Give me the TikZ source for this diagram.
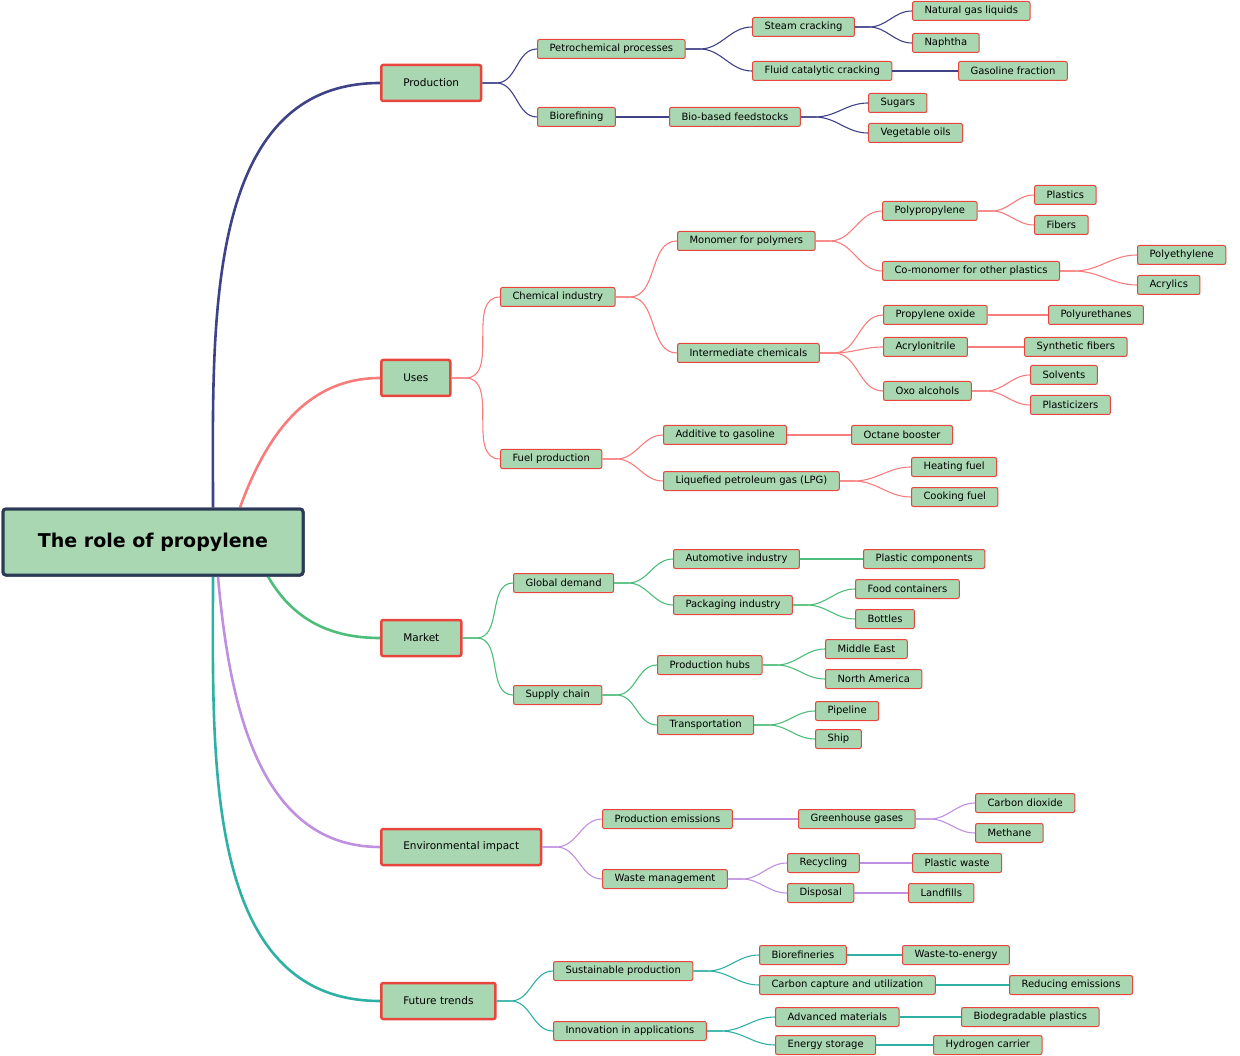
\documentclass[tikz,border=0pt]{standalone}
\usepackage{fontspec}
\setmainfont{DejaVu Sans}
\definecolor{boxfill}{HTML}{A9D7B1}
\definecolor{boxline}{HTML}{E8453C}
\definecolor{rootline}{HTML}{2B3A55}
\definecolor{cprod}{HTML}{3F4287}
\definecolor{cuses}{HTML}{F77D7D}
\definecolor{cmark}{HTML}{4DBD7A}
\definecolor{cenv}{HTML}{C090E0}
\definecolor{cfut}{HTML}{2FB0A5}
\tikzset{
  sub/.style={draw=boxline, fill=boxfill, rounded corners=2pt, line width=1pt,
    anchor=west, inner xsep=12pt, minimum height=19pt, font=\fontsize{10}{12}\selectfont},
  topic/.style={draw=boxline, fill=boxfill, rounded corners=2pt, line width=2.5pt,
    anchor=west, inner xsep=22pt, minimum height=36pt, font=\fontsize{10.5}{12}\selectfont},
  rootbox/.style={draw=rootline, fill=boxfill, rounded corners=3pt, line width=3pt,
    minimum width=300pt, minimum height=66pt, font=\fontsize{19}{22}\selectfont\bfseries},
  lnk/.style={line width=1.1pt},
  trunk/.style={line width=2.6pt}
}
\newcommand\lk[3]{\draw[lnk,#1] (#2.east) -- ++(14,0) to[out=0,in=180] (#3.west);}
\begin{document}
\begin{tikzpicture}[x=1pt,y=-1pt]
\useasboundingbox (0,0) rectangle (1240,1056);

% root and topics
\node[rootbox] (root) at (153,542) {The role of propylene};
\node[topic] (prod) at (380,83) {Production};
\node[topic] (uses) at (380,378) {Uses};
\node[topic] (mark) at (380,638) {Market};
\node[topic] (env) at (380,847) {Environmental impact};
\node[topic] (fut) at (380,1001) {Future trends};

% trunks
\draw[trunk,cprod] ([xshift=60pt]root.north) to[out=90,in=180] (prod.west);
\draw[trunk,cuses] ([xshift=87pt]root.north) to[out=70,in=180] (uses.west);
\draw[trunk,cmark] ([xshift=115pt]root.south) to[out=-60,in=180] (mark.west);
\draw[trunk,cenv] ([xshift=65pt]root.south) to[out=-85,in=180] (env.west);
\draw[trunk,cfut] ([xshift=60pt]root.south) to[out=-90,in=180] (fut.west);
\node[rootbox] at (root) {The role of propylene};

% Production
\node[sub] (petro) at (537,49) {Petrochemical processes};
\node[sub] (steam) at (752,27) {Steam cracking};
\node[sub] (ngl) at (912,11) {Natural gas liquids};
\node[sub] (naph) at (912,43) {Naphtha};
\node[sub] (fcc) at (752,71) {Fluid catalytic cracking};
\node[sub] (gasf) at (958,71) {Gasoline fraction};
\node[sub] (bioref) at (537,117) {Biorefining};
\node[sub] (biofeed) at (669,117) {Bio-based feedstocks};
\node[sub] (sugar) at (868,103) {Sugars};
\node[sub] (vegoil) at (868,133) {Vegetable oils};
\lk{cprod}{prod}{petro} \lk{cprod}{prod}{bioref}
\lk{cprod}{petro}{steam} \lk{cprod}{petro}{fcc}
\lk{cprod}{steam}{ngl} \lk{cprod}{steam}{naph}
\lk{cprod}{fcc}{gasf} \lk{cprod}{bioref}{biofeed}
\lk{cprod}{biofeed}{sugar} \lk{cprod}{biofeed}{vegoil}

% Uses
\node[sub] (chem) at (500,297) {Chemical industry};
\node[sub] (mono) at (677,241) {Monomer for polymers};
\node[sub] (pp) at (882,211) {Polypropylene};
\node[sub] (plast) at (1034,195) {Plastics};
\node[sub] (fib) at (1034,225) {Fibers};
\node[sub] (como) at (882,271) {Co-monomer for other plastics};
\node[sub] (pe) at (1137,255) {Polyethylene};
\node[sub] (acryl) at (1137,285) {Acrylics};
\node[sub] (inter) at (677,353) {Intermediate chemicals};
\node[sub] (pox) at (883,315) {Propylene oxide};
\node[sub] (pu) at (1048,315) {Polyurethanes};
\node[sub] (acn) at (883,347) {Acrylonitrile};
\node[sub] (synf) at (1024,347) {Synthetic fibers};
\node[sub] (oxo) at (883,391) {Oxo alcohols};
\node[sub] (solv) at (1030,375) {Solvents};
\node[sub] (plz) at (1030,405) {Plasticizers};
\node[sub] (fuel) at (500,459) {Fuel production};
\node[sub] (addg) at (663,435) {Additive to gasoline};
\node[sub] (oct) at (851,435) {Octane booster};
\node[sub] (lpg) at (663,481) {Liquefied petroleum gas (LPG)};
\node[sub] (heat) at (911,467) {Heating fuel};
\node[sub] (cook) at (911,497) {Cooking fuel};
\lk{cuses}{uses}{chem} \lk{cuses}{uses}{fuel}
\lk{cuses}{chem}{mono} \lk{cuses}{chem}{inter}
\lk{cuses}{mono}{pp} \lk{cuses}{mono}{como}
\lk{cuses}{pp}{plast} \lk{cuses}{pp}{fib}
\lk{cuses}{como}{pe} \lk{cuses}{como}{acryl}
\lk{cuses}{inter}{pox} \lk{cuses}{inter}{acn} \lk{cuses}{inter}{oxo}
\lk{cuses}{pox}{pu} \lk{cuses}{acn}{synf}
\lk{cuses}{oxo}{solv} \lk{cuses}{oxo}{plz}
\lk{cuses}{fuel}{addg} \lk{cuses}{fuel}{lpg}
\lk{cuses}{addg}{oct}
\lk{cuses}{lpg}{heat} \lk{cuses}{lpg}{cook}

% Market
\node[sub] (glob) at (513,583) {Global demand};
\node[sub] (auto) at (673,559) {Automotive industry};
\node[sub] (plcomp) at (863,559) {Plastic components};
\node[sub] (pack) at (673,605) {Packaging industry};
\node[sub] (food) at (855,589) {Food containers};
\node[sub] (bott) at (855,619) {Bottles};
\node[sub] (supp) at (513,695) {Supply chain};
\node[sub] (hubs) at (657,665) {Production hubs};
\node[sub] (mide) at (825,649) {Middle East};
\node[sub] (noam) at (825,679) {North America};
\node[sub] (trans) at (657,725) {Transportation};
\node[sub] (pipe) at (815,711) {Pipeline};
\node[sub] (ship) at (815,739) {Ship};
\lk{cmark}{mark}{glob} \lk{cmark}{mark}{supp}
\lk{cmark}{glob}{auto} \lk{cmark}{glob}{pack}
\lk{cmark}{auto}{plcomp}
\lk{cmark}{pack}{food} \lk{cmark}{pack}{bott}
\lk{cmark}{supp}{hubs} \lk{cmark}{supp}{trans}
\lk{cmark}{hubs}{mide} \lk{cmark}{hubs}{noam}
\lk{cmark}{trans}{pipe} \lk{cmark}{trans}{ship}

% Environmental impact
\node[sub] (pem) at (602,819) {Production emissions};
\node[sub] (ghg) at (798,819) {Greenhouse gases};
\node[sub] (co2) at (975,803) {Carbon dioxide};
\node[sub] (meth) at (975,833) {Methane};
\node[sub] (waste) at (602,879) {Waste management};
\node[sub] (recy) at (787,863) {Recycling};
\node[sub] (plw) at (912,863) {Plastic waste};
\node[sub] (disp) at (787,893) {Disposal};
\node[sub] (landf) at (908,893) {Landfills};
\lk{cenv}{env}{pem} \lk{cenv}{env}{waste}
\lk{cenv}{pem}{ghg}
\lk{cenv}{ghg}{co2} \lk{cenv}{ghg}{meth}
\lk{cenv}{waste}{recy} \lk{cenv}{waste}{disp}
\lk{cenv}{recy}{plw} \lk{cenv}{disp}{landf}

% Future trends
\node[sub] (sust) at (553,971) {Sustainable production};
\node[sub] (biore) at (759,955) {Biorefineries};
\node[sub] (wte) at (902,955) {Waste-to-energy};
\node[sub] (ccu) at (759,985) {Carbon capture and utilization};
\node[sub] (redu) at (1009,985) {Reducing emissions};
\node[sub] (innov) at (553,1031) {Innovation in applications};
\node[sub] (advm) at (775,1017) {Advanced materials};
\node[sub] (biod) at (961,1017) {Biodegradable plastics};
\node[sub] (enst) at (775,1045) {Energy storage};
\node[sub] (hyd) at (933,1045) {Hydrogen carrier};
\lk{cfut}{fut}{sust} \lk{cfut}{fut}{innov}
\lk{cfut}{sust}{biore} \lk{cfut}{sust}{ccu}
\lk{cfut}{biore}{wte} \lk{cfut}{ccu}{redu}
\lk{cfut}{innov}{advm} \lk{cfut}{innov}{enst}
\lk{cfut}{advm}{biod} \lk{cfut}{enst}{hyd}
\end{tikzpicture}
\end{document}
